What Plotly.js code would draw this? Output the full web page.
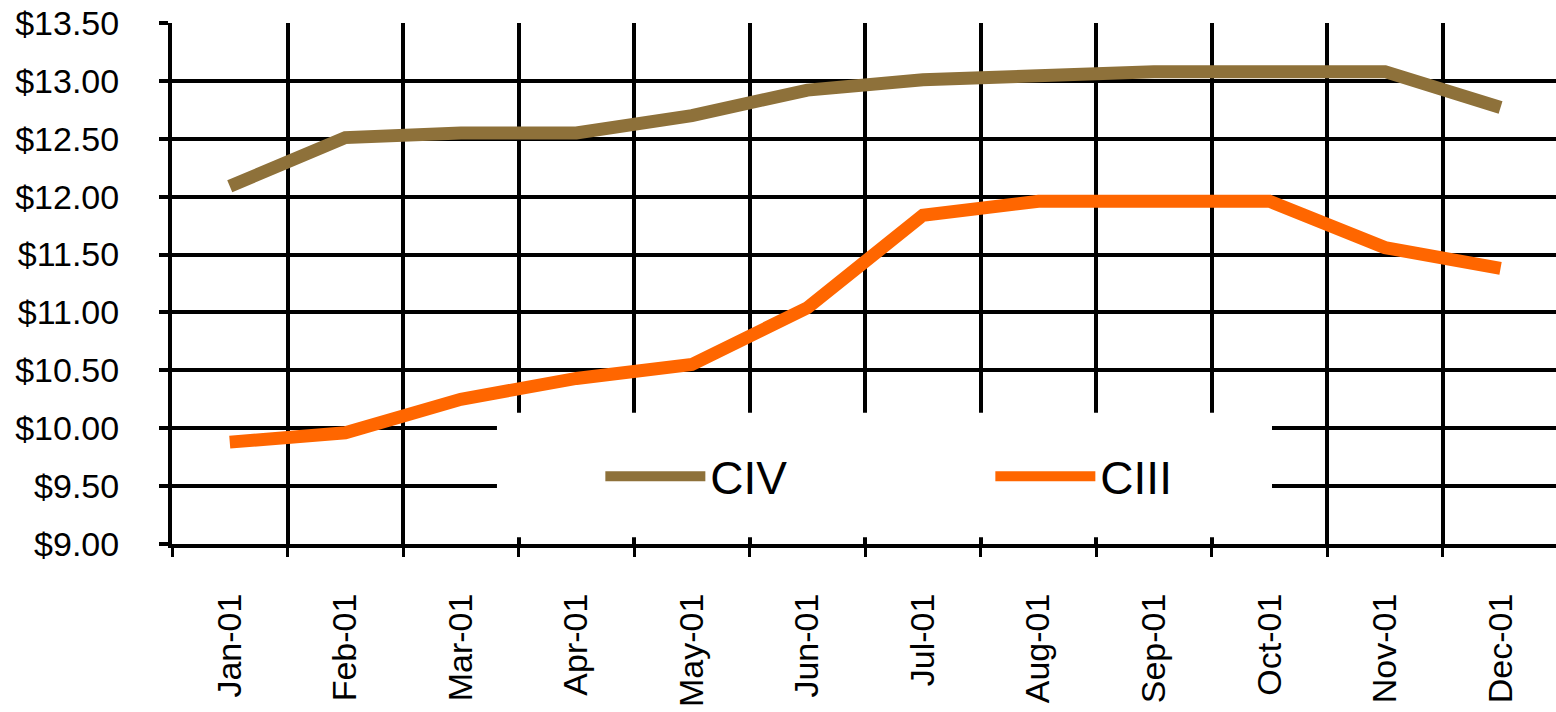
<!DOCTYPE html>
<html>
<head>
<meta charset="utf-8">
<script src="https://cdn.plot.ly/plotly-3.0.1.min.js"></script>
<style>
  html, body { margin: 0; padding: 0; background: #ffffff; }
  #chart { width: 1556px; height: 712px; }
</style>
</head>
<body>
<div id="chart"></div>
<script>
const months = ["Jan-01", "Feb-01", "Mar-01", "Apr-01", "May-01", "Jun-01",
                "Jul-01", "Aug-01", "Sep-01", "Oct-01", "Nov-01", "Dec-01"];
const civ  = [12.09, 12.51, 12.55, 12.55, 12.70, 12.92, 13.01, 13.04, 13.08, 13.08, 13.08, 12.77];
const ciii = [9.88, 9.96, 10.25, 10.43, 10.55, 11.04, 11.84, 11.96, 11.96, 11.96, 11.56, 11.38];
const seriesNames = ["CIV", "CIII"];
const seriesColors = ["#8E713A", "#FF6600"];
const yTicks = [9.0, 9.5, 10.0, 10.5, 11.0, 11.5, 12.0, 12.5, 13.0, 13.5];

const FONT = "Liberation Sans, Arial, sans-serif";

const traces = [civ, ciii].map((vals, i) => ({
  type: "scatter",
  mode: "lines",
  x: months,
  y: vals,
  name: seriesNames[i],
  line: { color: seriesColors[i], width: 13 },
  hoverinfo: "skip"
}));

const layout = {
  width: 1556,
  height: 712,
  margin: { l: 172, r: 0, t: 23, b: 168, autoexpand: false },
  paper_bgcolor: "#ffffff",
  plot_bgcolor: "#ffffff",
  font: { family: FONT, color: "#000000", size: 34 },
  showlegend: true,
  legend: {
    orientation: "h",
    x: 0.3095, xanchor: "left",
    y: 0.13, yanchor: "middle",
    bgcolor: "rgba(0,0,0,0)",
    borderwidth: 0,
    font: { family: FONT, size: 46, color: "#000000" },
    itemwidth: 100,
    entrywidth: 275,
    entrywidthmode: "pixels",
    itemclick: false,
    itemdoubleclick: false
  },
  xaxis: {
    type: "category",
    categoryorder: "array",
    categoryarray: months,
    range: [-0.5, 11.48],
    automargin: false,
    tickson: "boundaries",
    showgrid: true,
    gridcolor: "#000000",
    gridwidth: 4,
    showline: true,
    linecolor: "#000000",
    linewidth: 4,
    ticks: "outside",
    ticklen: 9,
    tickwidth: 3,
    tickcolor: "#000000",
    tickangle: -90,
    ticklabelstandoff: 32,
    tickfont: { family: FONT, size: 34, color: "#000000" },
    zeroline: false,
    fixedrange: true
  },
  yaxis: {
    range: [9, 13.5],
    automargin: false,
    tickmode: "array",
    tickvals: yTicks,
    ticktext: yTicks.map(v => "$" + v.toFixed(2)),
    showgrid: true,
    gridcolor: "#000000",
    gridwidth: 4,
    showline: true,
    linecolor: "#000000",
    linewidth: 4,
    ticks: "outside",
    ticklen: 9,
    tickwidth: 4,
    tickcolor: "#000000",
    ticklabelstandoff: 33,
    tickfont: { family: FONT, size: 34, color: "#000000" },
    zeroline: false,
    fixedrange: true
  },
  shapes: [{
    type: "rect",
    xref: "paper", yref: "paper",
    x0: 0.2348, x1: 0.7948,
    y0: 0.013, y1: 0.252,
    fillcolor: "#ffffff",
    line: { width: 0 },
    layer: "above"
  }]
};

Plotly.newPlot("chart", traces, layout, { staticPlot: true, displayModeBar: false });
</script>
</body>
</html>
